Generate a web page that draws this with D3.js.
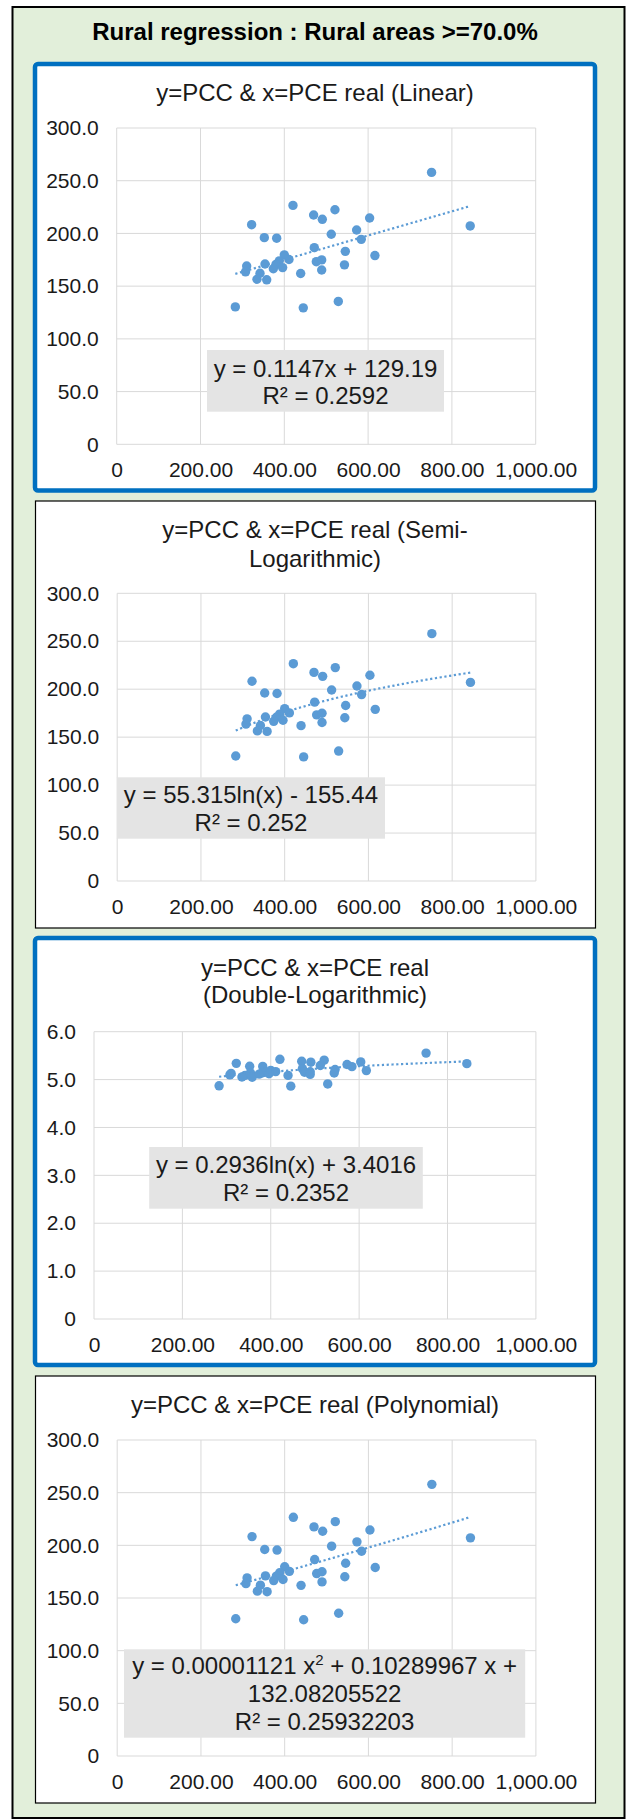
<!DOCTYPE html>
<html>
<head>
<meta charset="utf-8">
<script src="https://cdn.jsdelivr.net/npm/d3@7/dist/d3.min.js"></script>
<style>
  html, body { margin: 0; padding: 0; background: #ffffff; }
  svg { display: block; }
  text { font-family: "Liberation Sans", Arial, Helvetica, sans-serif; }
</style>
</head>
<body>
<svg id="chart" width="627" height="1819"></svg>
<script>
// Rural states: real per-capita expenditure (x) and per-capita consumption (y)
const pceReal = [751.5, 843.7, 420.7, 520.9, 470.0, 490.7, 603.6, 322.0, 512.1, 572.6,
                 583.7, 352.3, 381.8, 471.6, 545.6, 616.3, 400.0, 411.2, 388.0, 380.2,
                 354.0, 310.2, 307.5, 342.0, 334.8, 358.0, 439.1, 476.4, 489.2, 489.2,
                 543.6, 283.1, 445.3, 528.9, 373.8, 396.0];
const pccValues = [257.9, 207.1, 226.6, 222.5, 217.5, 213.4, 214.6, 208.3, 199.2, 203.3,
                   194.4, 196.0, 195.5, 186.5, 183.0, 179.0, 179.7, 175.3, 174.0, 170.7,
                   171.0, 169.1, 163.6, 162.2, 156.5, 156.0, 162.0, 173.2, 174.9, 165.3,
                   170.2, 130.3, 129.4, 135.5, 166.5, 167.6];

const xTicks = [0, 200, 400, 600, 800, 1000];
const yTicksLevel = [0, 50, 100, 150, 200, 250, 300];
const yTicksLog = [0, 1, 2, 3, 4, 5, 6];

const chartHeading = "Rural regression : Rural areas >=70.0%";
const panelTitles = [
  ["y=PCC & x=PCE real (Linear)"],
  ["y=PCC & x=PCE real (Semi-", "Logarithmic)"],
  ["y=PCC & x=PCE real", "(Double-Logarithmic)"],
  ["y=PCC & x=PCE real (Polynomial)"]
];

// Fitted trend coefficients
const linearFit = [0.1147, 129.19];            // y = a x + b
const semiLogFit = [55.315, -155.44];          // y = a ln(x) + b
const doubleLogFit = [0.2936, 3.4016];         // ln y = a ln(x) + b
const polyFit = [0.00001121, 0.10289967, 132.08205522]; // y = a x^2 + b x + c

const fitLabels = [
  [["y = 0.1147x + 129.19"], ["R² = 0.2592"]],
  [["y = 55.315ln(x) - 155.44"], ["R² = 0.252"]],
  [["y = 0.2936ln(x) + 3.4016"], ["R² = 0.2352"]],
  [["y = 0.00001121 x", {sup: "2"}, " + 0.10289967 x +"], ["132.08205522"], ["R² = 0.25932203"]]
];

const svg = d3.select("#chart");
const dotColor = "#5b9bd5";
const gridColor = "#d9d9d9";
const textColor = "#1a1a1a";

// Outer frame
svg.append("rect")
  .attr("x", 12.5).attr("y", 7).attr("width", 612).attr("height", 1811)
  .attr("fill", "#e2efda").attr("stroke", "#000").attr("stroke-width", 2);

svg.append("text")
  .attr("x", 315).attr("y", 31.7).attr("dy", "0.35em")
  .attr("text-anchor", "middle")
  .attr("font-size", 24).attr("font-weight", "bold").attr("fill", "#000")
  .text(chartHeading);

const panels = [
  { top: 64, bottom: 490.5, blue: true, titleY: [92.3],
    plot: {l: 116.7, r: 535.7, t: 128, b: 444.3}, yTicks: yTicksLevel, yMax: 300,
    box: {l: 207, r: 444, t: 350, b: 411.7}, lineY: [368.3, 396],
    fy: x => linearFit[0] * x + linearFit[1], yOf: v => v },
  { top: 501, bottom: 928, blue: false, titleY: [529.3, 558.3],
    plot: {l: 117.2, r: 535.9, t: 593.3, b: 881}, yTicks: yTicksLevel, yMax: 300,
    box: {l: 116.9, r: 385, t: 777.3, b: 838.7}, lineY: [795, 822.7],
    fy: x => semiLogFit[0] * Math.log(x) + semiLogFit[1], yOf: v => v },
  { top: 938, bottom: 1365, blue: true, titleY: [967.3, 995],
    plot: {l: 94, r: 535.9, t: 1031.7, b: 1319}, yTicks: yTicksLog, yMax: 6,
    box: {l: 149.2, r: 422.8, t: 1147, b: 1208.7}, lineY: [1165, 1192.7],
    fy: x => doubleLogFit[0] * Math.log(x) + doubleLogFit[1], yOf: v => Math.log(v) },
  { top: 1376, bottom: 1803, blue: false, titleY: [1404.3],
    plot: {l: 117.2, r: 535.9, t: 1440, b: 1756}, yTicks: yTicksLevel, yMax: 300,
    box: {l: 124, r: 525.2, t: 1649.3, b: 1737.7}, lineY: [1666, 1693.3, 1721.7],
    fy: x => polyFit[0] * x * x + polyFit[1] * x + polyFit[2], yOf: v => v }
];

const yFmt = d => d === 0 ? "0" : d3.format(".1f")(d);
const xFmt = d => d === 0 ? "0" : d3.format(",.2f")(d);
const xExtent = d3.extent(pceReal);
const points = pceReal.map((x, i) => ({x, y: pccValues[i]}));

panels.forEach((p, idx) => {
  const g = svg.append("g");

  // Panel frame
  if (p.blue) {
    g.append("rect")
      .attr("x", 35).attr("y", p.top).attr("width", 560).attr("height", p.bottom - p.top)
      .attr("rx", 3).attr("fill", "#fff").attr("stroke", "#0070c0").attr("stroke-width", 4.5);
  } else {
    g.append("rect")
      .attr("x", 35.5).attr("y", p.top).attr("width", 560).attr("height", p.bottom - p.top)
      .attr("fill", "#fff").attr("stroke", "#000").attr("stroke-width", 1.2);
  }

  // Title
  panelTitles[idx].forEach((line, j) => {
    g.append("text")
      .attr("x", 315).attr("y", p.titleY[j]).attr("dy", "0.35em")
      .attr("text-anchor", "middle").attr("font-size", 24).attr("fill", textColor)
      .text(line);
  });

  const x = d3.scaleLinear().domain([0, 1000]).range([p.plot.l, p.plot.r]);
  const y = d3.scaleLinear().domain([0, p.yMax]).range([p.plot.b, p.plot.t]);

  // Gridlines
  g.append("g").selectAll("line").data(p.yTicks).join("line")
    .attr("x1", p.plot.l).attr("x2", p.plot.r)
    .attr("y1", d => y(d)).attr("y2", d => y(d))
    .attr("stroke", gridColor).attr("stroke-width", 1);
  g.append("g").selectAll("line").data(xTicks).join("line")
    .attr("y1", p.plot.t).attr("y2", p.plot.b)
    .attr("x1", d => x(d)).attr("x2", d => x(d))
    .attr("stroke", gridColor).attr("stroke-width", 1);

  // Axes (labels only)
  const yAxis = g.append("g").attr("transform", `translate(${p.plot.l},0)`)
    .call(d3.axisLeft(y).tickValues(p.yTicks).tickSize(0).tickPadding(18).tickFormat(yFmt));
  const xAxis = g.append("g").attr("transform", `translate(0,${p.plot.b})`)
    .call(d3.axisBottom(x).tickValues(xTicks).tickSize(0).tickPadding(18).tickFormat(xFmt));
  [yAxis, xAxis].forEach(a => {
    a.select(".domain").remove();
    a.attr("font-size", 21).attr("font-family", null);
    a.selectAll("text").attr("fill", textColor);
  });

  // Fit label box
  g.append("rect")
    .attr("x", p.box.l).attr("y", p.box.t)
    .attr("width", p.box.r - p.box.l).attr("height", p.box.b - p.box.t)
    .attr("fill", "#e4e4e4");

  // Points
  g.append("g").selectAll("circle").data(points).join("circle")
    .attr("cx", d => x(d.x)).attr("cy", d => y(p.yOf(d.y)))
    .attr("r", 4.7).attr("fill", dotColor);

  // Trend line
  const xs = d3.range(0, 81).map(i => xExtent[0] + (xExtent[1] - xExtent[0]) * i / 80);
  g.append("path")
    .datum(xs)
    .attr("d", d3.line().x(d => x(d)).y(d => y(p.fy(d))))
    .attr("fill", "none").attr("stroke", dotColor).attr("stroke-width", 2.2)
    .attr("stroke-dasharray", "2.2,2.6");

  // Fit equation text
  const cx = (p.box.l + p.box.r) / 2;
  fitLabels[idx].forEach((parts, j) => {
    const t = g.append("text")
      .attr("x", cx).attr("y", p.lineY[j]).attr("dy", "0.35em")
      .attr("text-anchor", "middle").attr("font-size", 24).attr("fill", textColor);
    let shift = 0;
    parts.forEach(part => {
      if (typeof part === "string") {
        const s = t.append("tspan").text(part);
        if (shift) { s.attr("dy", shift); shift = 0; }
      } else {
        t.append("tspan").attr("font-size", 15).attr("dy", -9).text(part.sup);
        shift = 9;
      }
    });
  });
});
</script>
</body>
</html>
